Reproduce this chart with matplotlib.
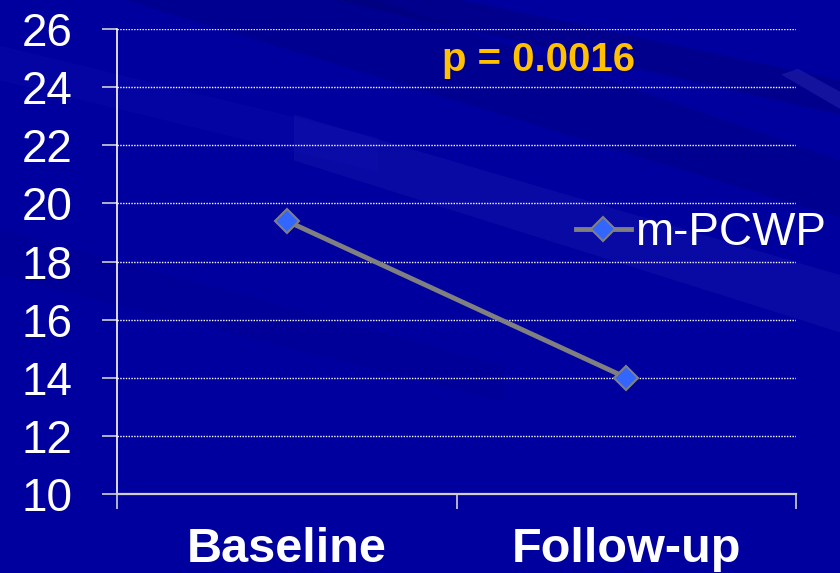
import numpy as np
import matplotlib.pyplot as plt
from matplotlib.patches import Polygon

categories = ["Baseline", "Follow-up"]
pcwp = [19.4, 14.0]
series_name = "m-PCWP"
p_text = "p = 0.0016"
y_ticks = [10, 12, 14, 16, 18, 20, 22, 24, 26]

bg = "#00009E"
plt.rcParams['font.family'] = ['Liberation Sans', 'DejaVu Sans']

fig = plt.figure(figsize=(8.4, 5.73), dpi=100, facecolor=bg)

# background axes for the faint diagonal streaks of the slide
bax = fig.add_axes([0, 0, 1, 1], zorder=-1)
bax.set_xlim(0, 1)
bax.set_ylim(0, 1)
bax.axis('off')
streaks = [
    ([(0.15, 1.0), (0.45, 1.0), (1.0, 0.72), (1.0, 0.62)], "#000070", 0.30),
    ([(0.40, 1.0), (0.55, 1.0), (1.0, 0.86), (1.0, 0.80)], "#00005c", 0.25),
    ([(0.35, 0.80), (0.35, 0.72), (1.0, 0.42), (1.0, 0.52)], "#3030c0", 0.20),
    ([(0.0, 0.92), (0.0, 0.86), (0.45, 0.70), (0.45, 0.76)], "#1010b0", 0.30),
    ([(0.93, 0.87), (0.95, 0.88), (1.0, 0.84), (1.0, 0.81)], "#4040c8", 0.30),
    ([(0.0, 0.60), (0.0, 0.52), (0.6, 0.30), (0.6, 0.36)], "#000080", 0.20),
]
for pts, col, a in streaks:
    bax.add_patch(Polygon(pts, closed=True, facecolor=col, edgecolor='none', alpha=a))

ax = fig.add_axes([0.139, 0.138, 0.809, 0.811])
ax.set_facecolor('none')

x = np.arange(len(categories))
line, = ax.plot(x, pcwp, color='#808080', lw=3.5, marker='D', markersize=12,
                markerfacecolor='#3366FF', markeredgecolor='#808080',
                markeredgewidth=1.5, label=series_name, zorder=3)

ax.set_xlim(-0.5, 1.5)
ax.set_ylim(10, 26)
ax.set_yticks(y_ticks)
ax.set_yticklabels([str(v) for v in y_ticks], color='white', fontsize=33)
ax.set_xticks([-0.5, 0.5, 1.5])
ax.set_xticklabels([])
ax.set_xticks(x, minor=True)
ax.set_xticklabels(categories, minor=True, color='white', fontsize=35,
                   fontweight='bold')
ax.tick_params(axis='x', which='minor', length=0, pad=24)
ax.tick_params(axis='x', which='major', length=11, color='#d0d0d0', width=1.2)
ax.tick_params(axis='y', length=11, color='#d0d0d0', width=1.2, pad=21)

for s in ['top', 'right']:
    ax.spines[s].set_visible(False)
ax.spines['left'].set_color('white')
ax.spines['bottom'].set_color('#d0d0d0')
ax.spines['left'].set_linewidth(1.2)
ax.spines['bottom'].set_linewidth(1.6)

ax.grid(axis='y', color='white', linestyle=(0, (1, 1)), lw=1.0)
ax.set_axisbelow(True)

ax.text(0.74, 24.93, p_text, color='#FFC000', fontsize=29, fontweight='bold',
        ha='center', va='center')

leg = fig.legend(handles=[line], loc='center left', bbox_to_anchor=(0.658, 0.593),
                 frameon=False, fontsize=33, labelcolor='white',
                 handlelength=1.2, handletextpad=0.1, borderpad=0)

fig.savefig('out.png', dpi=100, facecolor=bg)
